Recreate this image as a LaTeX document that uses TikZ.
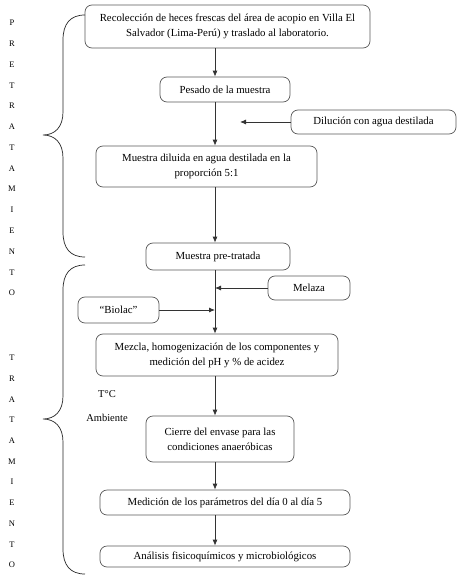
\documentclass[tikz,border=0pt]{standalone}
\usepackage{fontspec}
\setmainfont{Liberation Serif}
\usetikzlibrary{arrows.meta}
\begin{document}
\begin{tikzpicture}[x=1pt,y=-1pt,
  box/.style={draw=black!65,line width=0.7pt,rounded corners=7pt,align=center,inner sep=1pt,
    font=\fontsize{10.8}{15}\selectfont},
  flow/.style={draw=black!80,line width=0.8pt,-{Latex[length=6pt,width=5pt]}},
  letter/.style={font=\fontsize{8.5}{9}\selectfont,inner sep=0pt},
  brace/.style={draw=black!85,line width=0.7pt},
  lbl/.style={font=\fontsize{10.5}{11}\selectfont,inner sep=0pt}]
\useasboundingbox (0,0) rectangle (460,580);
\coordinate (sp) at (215,0);
\node[box,minimum width=285pt,minimum height=43pt] (b1) at (227.5,26.5)
  {Recolección de heces frescas del área de acopio en Villa El\\Salvador (Lima-Perú) y traslado al laboratorio.};
\node[box,minimum width=130pt,minimum height=25pt] (b2) at (225,89.5) {Pesado de la muestra};
\node[box,minimum width=165pt,minimum height=24pt] (b3) at (373.5,122) {Dilución con agua destilada};
\node[box,minimum width=221pt,minimum height=41pt] (b4) at (206.5,166.5)
  {Muestra diluida en agua destilada en la\\proporción 5:1};
\node[box,minimum width=144pt,minimum height=27pt] (b5) at (218,256.5) {Muestra pre-tratada};
\node[box,minimum width=82pt,minimum height=24pt] (b6) at (309,288) {Melaza};
\node[box,minimum width=81pt,minimum height=26pt] (b7) at (118.5,310) {“Biolac”};
\node[box,minimum width=242pt,minimum height=42pt] (b8) at (217,355)
  {Mezcla, homogenización de los componentes y\\medición del pH y \% de acidez};
\node[box,minimum width=148pt,minimum height=46pt] (b9) at (220,439)
  {Cierre del envase para las\\condiciones anaeróbicas};
\node[box,minimum width=250pt,minimum height=25pt] (b10) at (225,502.5)
  {Medición de los parámetros del día 0 al día 5};
\node[box,minimum width=250pt,minimum height=21pt] (b11) at (225,556.5)
  {Análisis fisicoquímicos y microbiológicos};
\coordinate (dtip) at (240,122);
\draw[flow] (b1.south -| sp) -- (b2.north -| sp);
\draw[flow] (b2.south -| sp) -- (b4.north -| sp);
\draw[flow] (b3.west) -- (dtip);
\draw[flow] (b4.south -| sp) -- (b5.north -| sp);
\draw[flow] (b5.south -| sp) -- (b8.north -| sp);
\draw[flow] (b6.west) -- (b6.west -| sp);
\draw[flow] (b7.east) -- (b7.east -| sp);
\draw[flow] (b8.south -| sp) -- (b9.north -| sp);
\draw[flow] (b9.south -| sp) -- (b10.north -| sp);
\draw[flow] (b10.south -| sp) -- (b11.north -| sp);
% braces
\draw[brace] (85,15) .. controls (70,15) and (63,24) .. (63,40) -- (63,112)
  .. controls (63,127) and (55,135) .. (43,135)
  .. controls (55,135) and (63,143) .. (63,158) -- (63,232)
  .. controls (63,248) and (70,257) .. (85,257);
\draw[brace] (85,265) .. controls (70,265) and (63,274) .. (63,290) -- (63,396)
  .. controls (63,411) and (55,419) .. (43,419)
  .. controls (55,419) and (63,427) .. (63,442) -- (63,549)
  .. controls (63,565) and (70,574) .. (85,574);
% letters
\foreach \l [count=\i from 0] in {P,R,E,T,R,A,T,A,M,I,E,N,T,O}
  \node[letter] (p\i) at (12,{23+20.77*\i}) {\l};
\foreach \l [count=\i from 0] in {T,R,A,T,A,M,I,E,N,T,O}
  \node[letter] (t\i) at (12,{358+20.7*\i}) {\l};
\node[lbl] (tc) at (107,394) {T°C};
\node[lbl] (amb) at (107,418) {Ambiente};
\end{tikzpicture}
\end{document}
